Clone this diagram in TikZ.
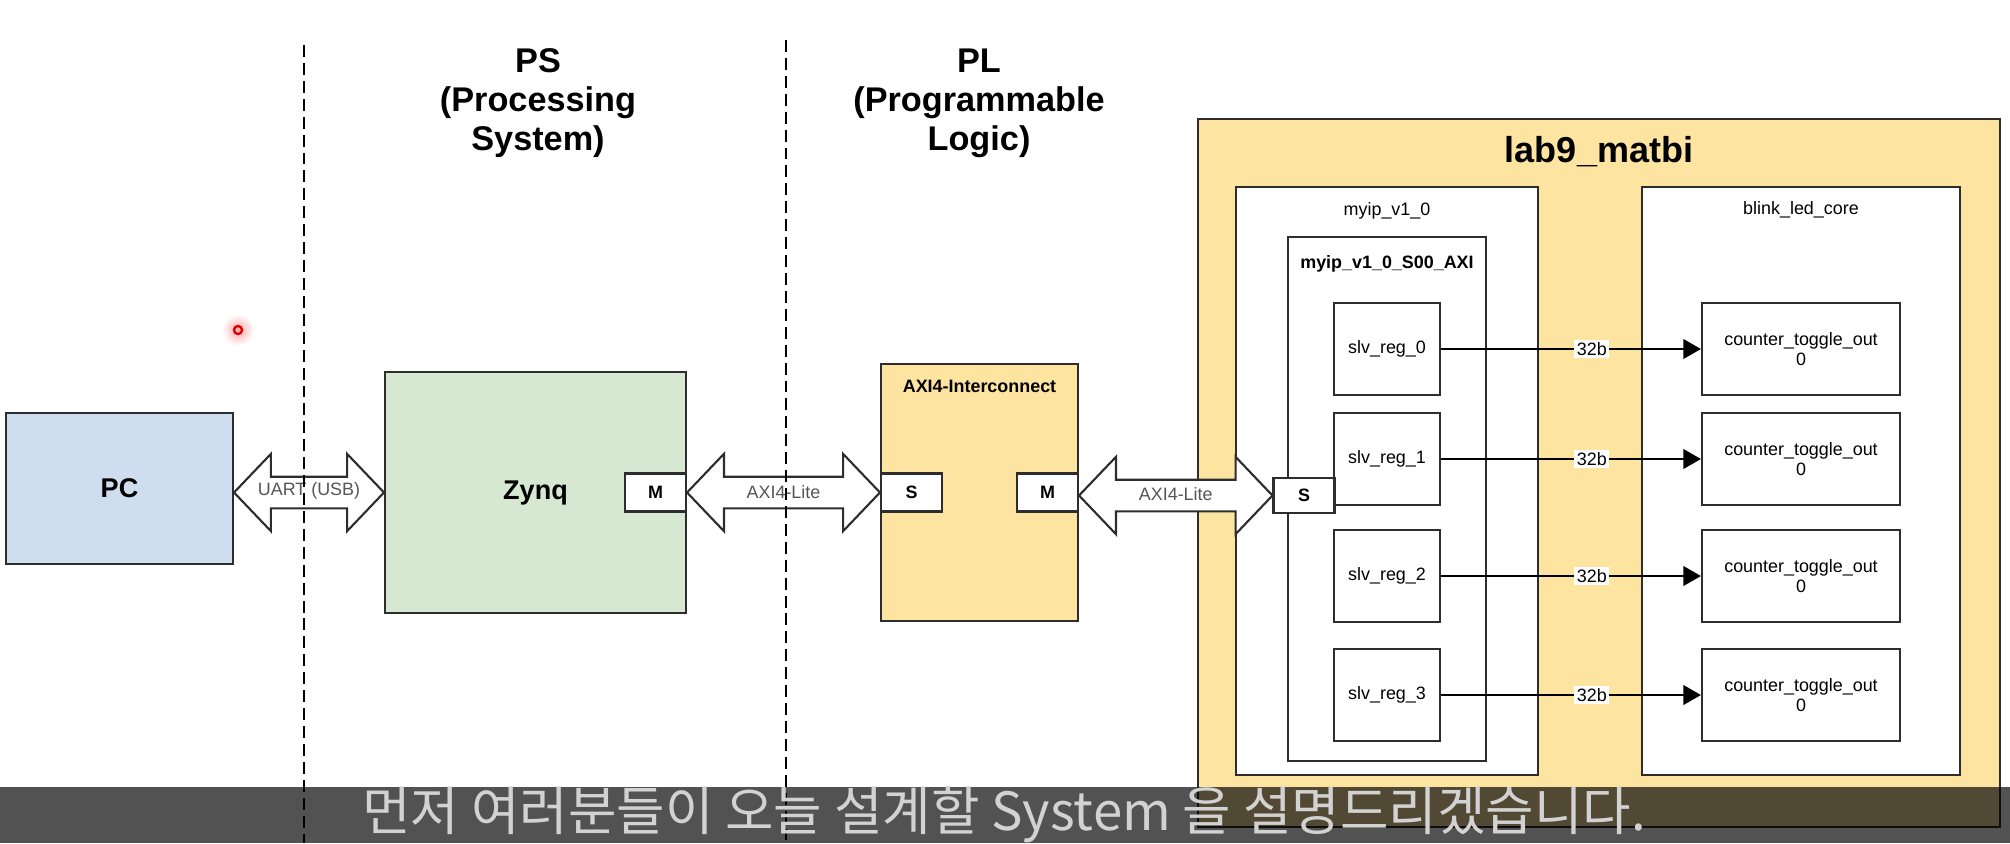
\documentclass[tikz,border=0pt]{standalone}
\usepackage{fontspec}
\setmainfont{Liberation Sans}
\newfontfamily\krfont{Noto Sans CJK KR}
\usetikzlibrary{arrows.meta,positioning,calc}
\definecolor{pcblue}{RGB}{206,222,238}
\definecolor{zynqgreen}{RGB}{214,232,210}
\definecolor{plyellow}{RGB}{253,228,160}
\definecolor{edge}{RGB}{45,45,45}
\definecolor{lblgray}{RGB}{85,85,85}
\definecolor{subgray}{RGB}{210,210,210}

% double headed bus arrow between two ports: from, to, label
\newcommand{\busarrow}[3]{%
  \draw[bus] let \p1=(#1.east), \p2=(#2.west) in
    (\x1,\y2) -- (\x1+21pt,\y2+22pt) -- (\x1+21pt,\y2+9pt) -- (\x2-21pt,\y2+9pt)
    -- (\x2-21pt,\y2+22pt) -- (\x2,\y2) -- (\x2-21pt,\y2-22pt) -- (\x2-21pt,\y2-9pt)
    -- (\x1+21pt,\y2-9pt) -- (\x1+21pt,\y2-22pt) -- cycle;
  \node[buslabel] at ($(#1.east)!0.5!(#2.west)$) {#3};
}

\begin{document}
\begin{tikzpicture}[x=0.02cm, y=-0.02cm,
    blk/.style={draw=edge, line width=1.2pt, inner sep=0pt},
    port/.style={blk, fill=white, minimum width=12.2mm, minimum height=7.6mm,
                 font=\fontsize{10.2}{12}\selectfont\bfseries},
    reg/.style={blk, fill=white, minimum width=21.2mm, minimum height=18.4mm,
                font=\fontsize{10.2}{12}\selectfont},
    cnt/.style={blk, fill=white, minimum width=39.6mm, minimum height=18.4mm,
                align=center, font=\fontsize{10.2}{11}\selectfont},
    bus/.style={draw=edge, line width=1.2pt, fill=white},
    buslabel/.style={text=lblgray, font=\fontsize{10.2}{12}\selectfont},
    lbl/.style={inner sep=0pt, font=\fontsize{10.2}{12}\selectfont},
    tag/.style={pos=0.58, fill=white, inner sep=1.5pt, font=\fontsize{10.2}{12}\selectfont},
    sig/.style={line width=1.6pt, -{Triangle[length=10pt,width=11pt]}},
    divider/.style={line width=1.2pt, dash pattern=on 6.8pt off 3.4pt},
    title/.style={align=center, font=\fontsize{19.5}{22.2}\selectfont\bfseries}]
  \useasboundingbox (0,0) rectangle (2010,843);

  % PS side
  \node[blk, fill=pcblue, minimum width=45.4mm, minimum height=30.2mm,
        font=\fontsize{15.4}{18}\selectfont\bfseries] (pc) at (119.5,488.5) {PC};
  \node[blk, fill=zynqgreen, minimum width=60.2mm, minimum height=48.2mm,
        font=\fontsize{15.4}{18}\selectfont\bfseries] (zynq) at (535.5,492.5) {Zynq};
  \node[port] (zynqM) at (655.5,492.5) {M};

  % Interconnect
  \node[blk, fill=plyellow, minimum width=39.4mm, minimum height=51.4mm] (axi) at (979.5,492.5) {};
  \node[lbl, font=\fontsize{10.2}{12}\selectfont\bfseries, below=3.3mm of axi.north] (axiT) {AXI4-Interconnect};
  \node[port] (axiS) at (911.5,492.5) {S};
  \node[port] (axiM) at (1047.5,492.5) {M};

  % lab9_matbi top
  \node[blk, fill=plyellow, minimum width=160.4mm, minimum height=141.6mm] (lab) at (1599,473) {};
  \node[title, inner sep=0pt, font=\fontsize{20.5}{24}\selectfont\bfseries, below=3.6mm of lab.north] (labT) {lab9\_matbi};
  \node[blk, fill=white, minimum width=60.4mm, minimum height=117.6mm] (myip) at (1387,481) {};
  \node[lbl, below=3.2mm of myip.north] (myipT) {myip\_v1\_0};
  \node[blk, fill=white, minimum width=39.6mm, minimum height=104.8mm] (saxi) at (1387,499) {};
  \node[lbl, font=\fontsize{10.2}{12}\selectfont\bfseries, below=3.8mm of saxi.north] (saxiT) {myip\_v1\_0\_S00\_AXI};
  \node[blk, fill=white, minimum width=63.6mm, minimum height=117.6mm] (blink) at (1801,481) {};
  \node[lbl, below=3mm of blink.north] (blinkT) {blink\_led\_core};

  % registers and outputs
  \foreach \i/\yy in {0/349,1/459,2/576,3/695}{
    \node[reg] (reg\i) at (1387,\yy) {slv\_reg\_\i};
    \node[cnt] (cnt\i) at (1801,\yy) {counter\_toggle\_out\\0};
  }
  \foreach \i in {0,...,3}
    \draw[sig] (reg\i.east) -- node[tag] {32b} (cnt\i.west);
  \node[port, minimum height=7mm] (saxiS) at (1304,495.5) {S};

  % buses
  \busarrow{pc}{zynq}{UART (USB)}
  \busarrow{zynqM}{axiS}{AXI4-Lite}
  \busarrow{axiM}{saxiS}{AXI4-Lite}

  % PS / PL borders
  \draw[divider] (304,45) -- (304,843);
  \draw[divider] (786,40) -- (786,843);
  \node[title] (psT) at (538,103) {PS\\(Processing\\System)};
  \node[title] (plT) at (979,103) {PL\\(Programmable\\Logic)};

  % pointer
  \shade[inner color=red!35, outer color=white] (238,330) circle (9pt);
  \draw[red!85!black, line width=1.3pt] (238,330) circle (2.3pt);

  % subtitle
  \fill[black, opacity=0.68] (0,787) rectangle (2010,843);
  \node[text=subgray, font=\krfont\fontsize{30}{34}\selectfont] (sub) at (1004,815)
    {먼저 여러분들이 오늘 설계할 System 을 설명드리겠습니다.};
\end{tikzpicture}
\end{document}
